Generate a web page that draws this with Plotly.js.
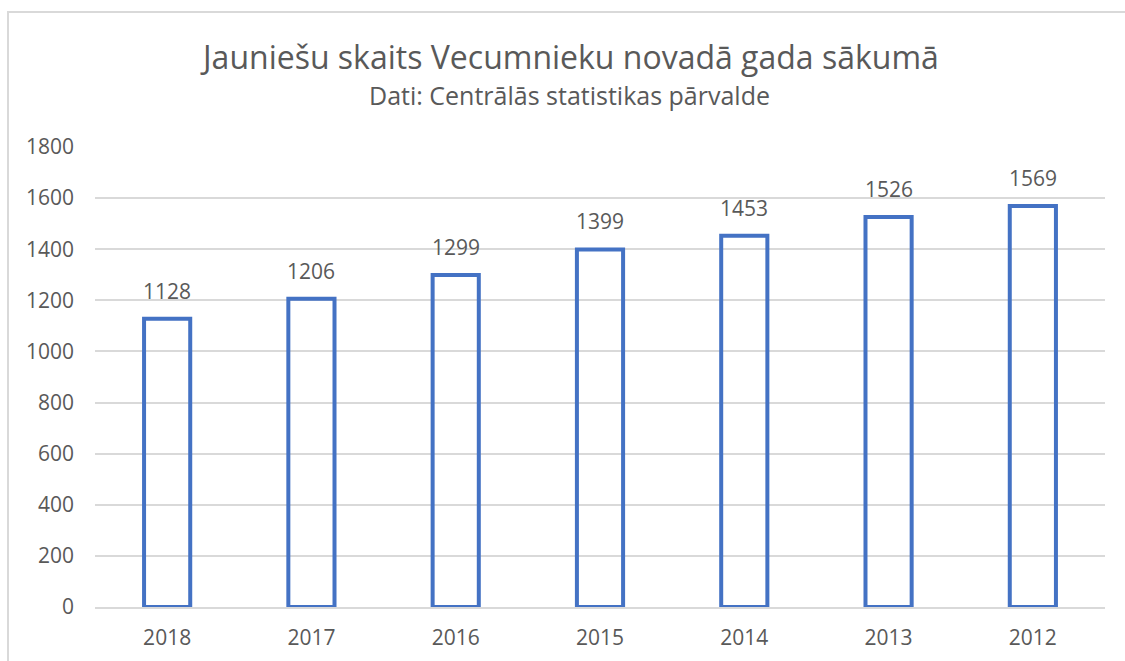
<!DOCTYPE html>
<html>
<head>
<meta charset="utf-8">
<script src="https://cdn.plot.ly/plotly-3.0.1.min.js"></script>
<style>
  html, body { margin: 0; padding: 0; background: #fff; }
  #frame { position: absolute; left: 7px; top: 11px; width: 1200px; height: 700px; border: 2px solid #d9d9d9; box-sizing: border-box; }
  #chart { position: absolute; left: 0; top: 0; width: 1125px; height: 661px; }
</style>
</head>
<body>
<div id="frame"></div>
<div id="chart"></div>
<script>
const years = ["2018", "2017", "2016", "2015", "2014", "2013", "2012"];
const counts = [1128, 1206, 1299, 1399, 1453, 1526, 1569];
const titleText = "Jaunie\u0161u skaits Vecumnieku novad\u0101 gada s\u0101kum\u0101";
const subtitleText = "Dati: Centr\u0101l\u0101s statistikas p\u0101rvalde";

const font = "Open Sans, Noto Sans, sans-serif";
const grey = "#595959";

const labelAnns = years.map((yr, i) => ({
  x: i, y: counts[i], xref: "x", yref: "y",
  text: String(counts[i]), showarrow: false,
  xanchor: "center", yanchor: "bottom", yshift: 12,
  font: { family: font, size: 21, color: grey }
}));

Plotly.newPlot("chart", [{
  type: "bar",
  x: years,
  y: counts,
  marker: { color: "rgba(255,255,255,0)", line: { color: "#4472C4", width: 4 } },
  hoverinfo: "x+y"
}], {
  width: 1125, height: 661,
  paper_bgcolor: "rgba(0,0,0,0)", plot_bgcolor: "rgba(0,0,0,0)",
  margin: { l: 95, r: 20, t: 147, b: 54 },
  bargap: 0.68,
  showlegend: false,
  font: { family: font, color: grey },
  xaxis: {
    type: "category",
    categoryorder: "array", categoryarray: years,
    range: [-0.5, years.length - 0.5],
    showgrid: false, zeroline: false,
    showline: true, linecolor: "#d9d9d9", linewidth: 2,
    ticks: "", ticklen: 0, ticklabelstandoff: 11,
    tickfont: { family: font, size: 21, color: grey }
  },
  yaxis: {
    range: [0, 1800], dtick: 200,
    showgrid: true, gridcolor: "#d9d9d9", gridwidth: 2,
    zeroline: false, showline: false,
    ticks: "", ticklabelstandoff: 20,
    tickfont: { family: font, size: 21, color: grey }
  },
  annotations: [
    { text: titleText, xref: "paper", yref: "paper", x: 0.47, y: 1.197, xanchor: "center", yanchor: "middle", showarrow: false, font: { family: font, size: 32, color: grey } },
    { text: subtitleText, xref: "paper", yref: "paper", x: 0.47, y: 1.112, xanchor: "center", yanchor: "middle", showarrow: false, font: { family: font, size: 25, color: grey } }
  ].concat(labelAnns)
}, { displayModeBar: false, staticPlot: true });
</script>
</body>
</html>
